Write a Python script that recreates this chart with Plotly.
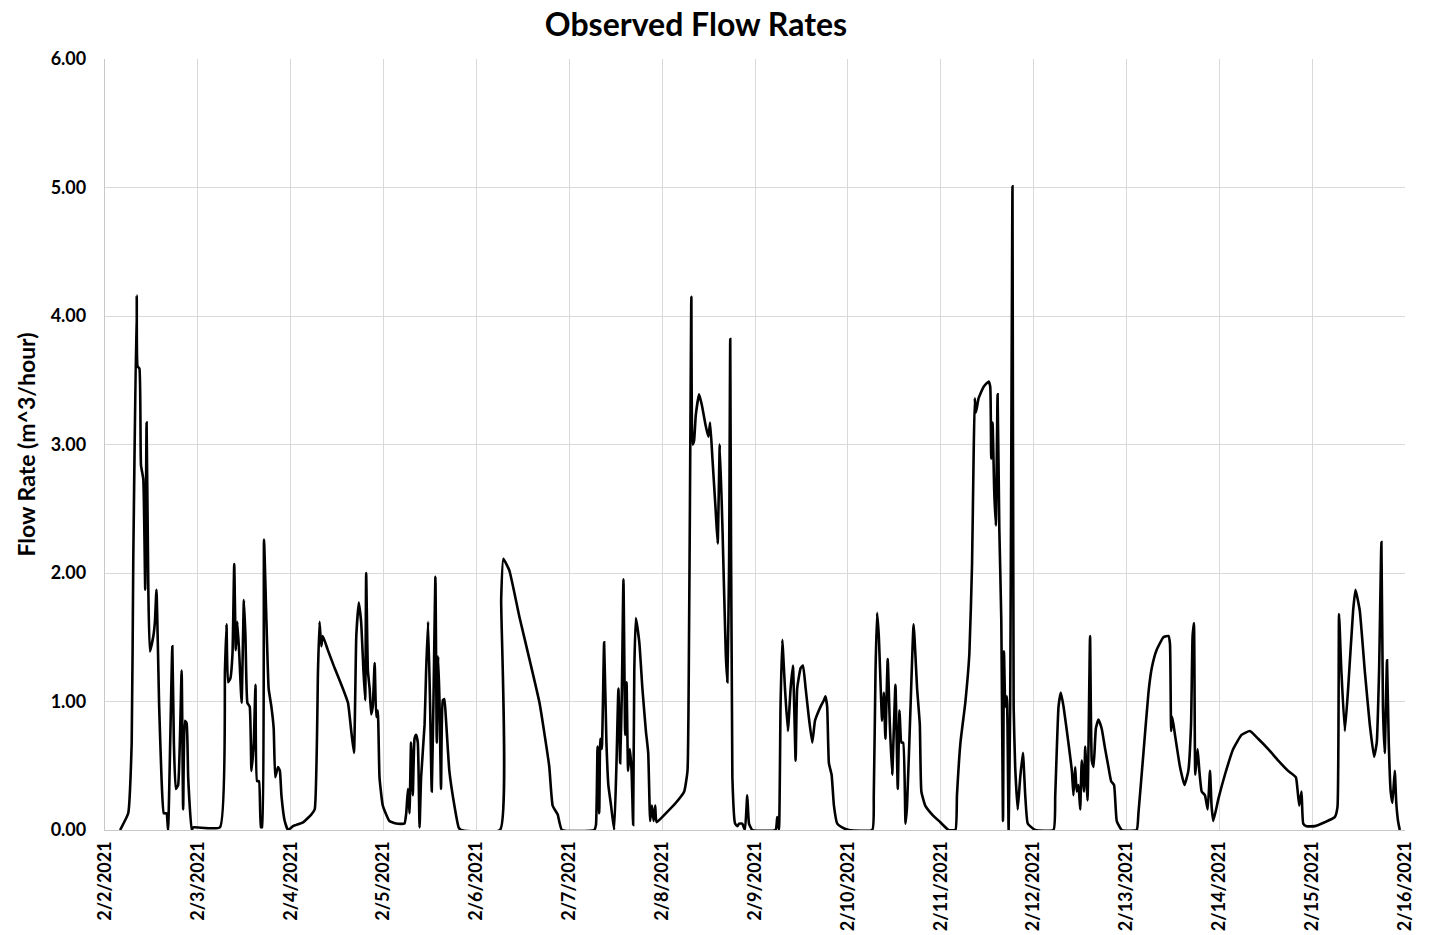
import pandas as pd
import plotly.graph_objects as go

# Hours since 2/2/2021 00:00 and observed flow rate (m^3/hour)
hours_since_start = [
    3.9, 6.0, 6.9, 7.3, 8.2, 8.4, 8.9, 9.3, 9.9, 10.4, 10.75, 11.2, 11.6, 12.5, 12.9, 13.3, 14.0, 14.6, 15.2, 15.9,
    16.3, 17.4, 17.8, 18.3, 18.9, 19.8, 20.2, 20.65, 21.1, 21.5, 22.4, 22.8, 29.7, 31.0, 31.4, 31.8, 32.4, 32.95, 33.4, 33.8,
    34.2, 34.7, 35.3, 35.9, 36.3, 36.8, 37.4, 37.85, 38.45, 38.9, 39.3, 39.8, 40.3, 40.6, 41.1, 41.7, 42.3, 43.0, 43.6, 44.0,
    44.7, 45.2, 45.6, 46.45, 47.3, 48.6, 51.2, 53.3, 54.2, 55.05, 55.45, 55.9, 56.3, 57.6, 59.35, 61.5, 62.8, 63.65, 64.35, 64.95,
    65.6, 66.2, 66.8, 67.25, 67.5, 67.95, 68.4, 68.8, 69.2, 69.7, 70.1, 70.5, 70.95, 71.8, 73.5, 75.3, 77.4, 77.85, 78.3, 78.7,
    79.1, 79.55, 80.0, 80.4, 80.85, 81.3, 81.7, 82.6, 83.0, 83.5, 84.0, 84.45, 84.9, 85.4, 85.75, 86.1, 86.45, 86.85, 87.3, 87.7,
    88.15, 89.0, 90.3, 91.4, 92.0, 102.1, 102.4, 102.96, 104.5, 107.1, 109.7, 112.3, 114.8, 115.7, 117.0, 118.1, 126.45, 126.9, 127.3, 127.75,
    128.0, 128.4, 129.0, 129.6, 130.1, 130.8, 131.6, 132.2, 132.7, 133.15, 133.6, 134.0, 134.45, 134.8, 135.2, 135.65, 136.1, 136.5, 136.8, 137.2,
    138.1, 138.9, 139.8, 140.4, 140.9, 141.35, 141.8, 142.2, 142.55, 144.95, 147.5, 149.7, 150.55, 150.95, 151.2, 151.55, 151.85, 152.25, 152.7, 153.55,
    154.25, 155.3, 155.95, 156.4, 157.0, 157.85, 158.35, 158.9, 159.6, 160.45, 160.85, 161.3, 161.6, 162.15, 162.85, 163.45, 163.9, 164.7, 165.4, 166.0,
    166.45, 167.3, 173.3, 173.75, 174.2, 174.6, 175.05, 175.75, 176.5, 177.2, 177.8, 178.5, 178.9, 179.8, 180.4, 181.1, 181.9, 182.8, 183.5, 184.1,
    184.95, 185.8, 186.2, 186.65, 187.1, 187.8, 188.4, 189.25, 190.5, 192.3, 198.3, 198.7, 199.15, 199.55, 200.0, 200.85, 201.3, 201.7, 202.3, 202.85,
    203.45, 204.3, 204.9, 205.35, 205.85, 206.3, 206.9, 207.3, 208.2, 209.0, 209.9, 210.6, 211.0, 212.0, 213.8, 215.9, 218.0, 219.8, 220.2, 221.1,
    222.35, 223.4, 224.1, 224.5, 224.8, 225.1, 225.8, 227.1, 228.4, 228.8, 229.05, 229.4, 229.85, 230.25, 230.7, 231.15, 231.65, 232.1, 232.35, 232.7,
    233.1, 233.55, 233.95, 234.55, 234.85, 235.25, 235.9, 236.55, 237.25, 237.85, 238.5, 240.4, 245.15, 245.6, 246.45, 247.05, 247.75, 249.0, 249.9, 250.3,
    250.75, 251.15, 251.6, 252.05, 252.45, 253.05, 253.35, 253.95, 254.6, 255.05, 255.5, 256.1, 256.75, 257.6, 258.5, 259.35, 260.05, 260.8, 261.5, 262.8,
    266.65, 267.1, 268.4, 269.7, 270.55, 271.8, 273.55, 274.85, 275.25, 275.55, 275.85, 276.55, 277.85, 279.0, 280.0, 280.7, 281.1, 281.45, 281.8, 282.4,
    282.85, 283.45, 284.3, 285.0, 285.6, 286.0, 286.45, 287.75, 289.45, 291.6, 293.75, 295.9, 298.05, 300.65, 303.25, 305.8, 307.8, 308.2, 308.65, 309.25,
    309.7, 310.55, 312.7, 315.25, 317.85, 318.55, 318.95, 319.55, 320.45, 321.3, 322.6, 323.2, 324.3, 325.6, 326.9, 328.0, 328.7, 329.3, 329.9, 330.3,
    330.75, 331.35, 331.8, 332.3, 332.75, 333.35, 333.75, 334.2, 334.65,
]

flow_rate = [
    0.00, 0.13, 0.68, 2.07, 4.16, 3.61, 3.59, 2.84, 2.73, 1.87, 3.17, 1.87, 1.39, 1.51, 1.62, 1.87, 0.96, 0.41, 0.13, 0.13,
    0.00, 1.43, 0.68, 0.32, 0.35, 1.24, 0.16, 0.85, 0.83, 0.41, 0.00, 0.02, 0.02, 1.24, 1.60, 1.15, 1.18, 1.37, 2.07, 1.40,
    1.62, 1.37, 0.99, 1.79, 1.51, 0.99, 0.96, 0.46, 0.68, 1.13, 0.38, 0.38, 0.02, 0.02, 2.26, 1.65, 1.10, 0.96, 0.79, 0.41,
    0.49, 0.46, 0.27, 0.07, 0.00, 0.03, 0.06, 0.12, 0.16, 1.24, 1.62, 1.43, 1.51, 1.40, 1.26, 1.10, 0.99, 0.77, 0.60, 1.51,
    1.77, 1.62, 1.24, 1.01, 2.00, 1.24, 1.10, 0.90, 0.96, 1.30, 0.88, 0.93, 0.41, 0.19, 0.07, 0.05, 0.05, 0.13, 0.32, 0.13,
    0.68, 0.27, 0.71, 0.74, 0.68, 0.02, 0.41, 0.82, 1.24, 1.62, 1.01, 0.30, 1.01, 1.97, 0.68, 1.35, 1.01, 0.32, 1.01, 1.02,
    0.85, 0.46, 0.19, 0.02, 0.00, 0.00, 1.80, 2.11, 2.02, 1.66, 1.33, 0.99, 0.50, 0.19, 0.12, 0.00, 0.00, 0.04, 0.65, 0.13,
    0.71, 0.63, 1.46, 0.68, 0.35, 0.19, 0.00, 0.52, 1.10, 0.52, 1.10, 1.95, 0.74, 1.15, 0.46, 0.63, 0.46, 0.04, 1.24, 1.65,
    1.46, 1.10, 0.77, 0.60, 0.07, 0.19, 0.07, 0.19, 0.06, 0.13, 0.21, 0.30, 0.46, 1.51, 2.62, 4.15, 3.00, 3.03, 3.23, 3.39,
    3.31, 3.14, 3.06, 3.17, 2.89, 2.48, 2.23, 3.00, 2.34, 1.37, 1.15, 2.07, 3.82, 0.41, 0.05, 0.03, 0.05, 0.05, 0.00, 0.27,
    0.05, 0.00, 0.00, 0.10, 0.00, 0.96, 1.48, 1.10, 0.77, 1.10, 1.28, 0.54, 1.10, 1.26, 1.28, 1.10, 0.88, 0.68, 0.85, 0.90,
    0.96, 1.01, 1.04, 0.96, 0.52, 0.43, 0.19, 0.05, 0.02, 0.00, 0.00, 0.27, 1.24, 1.69, 1.51, 0.85, 1.07, 0.71, 1.33, 0.82,
    0.43, 1.13, 0.32, 0.93, 0.68, 0.68, 0.05, 0.19, 0.96, 1.60, 1.10, 0.82, 0.30, 0.19, 0.12, 0.06, 0.00, 0.00, 0.27, 0.68,
    0.99, 1.37, 2.07, 2.90, 3.36, 3.25, 3.36, 3.45, 3.49, 3.45, 2.89, 3.17, 2.62, 2.37, 3.39, 2.34, 1.65, 0.07, 1.39, 0.96,
    1.04, 0.00, 0.96, 5.01, 0.96, 0.49, 0.16, 0.41, 0.60, 0.27, 0.05, 0.00, 0.00, 0.27, 0.96, 1.07, 0.96, 0.68, 0.46, 0.27,
    0.49, 0.30, 0.35, 0.16, 0.54, 0.30, 0.65, 0.23, 1.51, 0.54, 0.49, 0.79, 0.86, 0.79, 0.63, 0.49, 0.38, 0.35, 0.07, 0.00,
    0.00, 0.13, 0.60, 1.07, 1.26, 1.40, 1.50, 1.51, 1.45, 0.77, 0.88, 0.74, 0.49, 0.35, 0.46, 0.82, 1.51, 1.61, 0.43, 0.63,
    0.46, 0.30, 0.27, 0.16, 0.46, 0.19, 0.07, 0.24, 0.43, 0.63, 0.74, 0.77, 0.71, 0.63, 0.54, 0.46, 0.41, 0.32, 0.19, 0.30,
    0.05, 0.03, 0.03, 0.06, 0.10, 0.18, 1.68, 1.24, 0.77, 1.10, 1.71, 1.87, 1.71, 1.24, 0.82, 0.57, 0.68, 1.24, 2.24, 0.96,
    0.60, 1.32, 0.68, 0.30, 0.21, 0.46, 0.21, 0.07, 0.00,
]

tick_dates = pd.date_range("2021-02-02", "2021-02-16", freq="D")
tick_labels = [f"{d.month}/{d.day}/{d.year}" for d in tick_dates]
y_ticks = [0, 1, 2, 3, 4, 5, 6]
y_tick_labels = [f"{v:.2f}" for v in y_ticks]

start = pd.Timestamp("2021-02-02")
times = [start + pd.Timedelta(hours=h) for h in hours_since_start]

FONT = "Lato, 'Open Sans', sans-serif"

fig = go.Figure()
fig.add_trace(go.Scatter(
    x=times, y=flow_rate, mode="lines",
    line=dict(color="black", width=2.6, shape="spline", smoothing=0.4),
    showlegend=False,
))

fig.update_layout(
    width=1430, height=935,
    margin=dict(l=97, r=33, t=51, b=111),
    paper_bgcolor="white", plot_bgcolor="white",
    title=dict(text="<b>Observed Flow Rates</b>", x=0.4546, xref="paper", xanchor="center",
               y=0.982, yref="container", yanchor="middle",
               font=dict(family=FONT, size=32, color="black")),
    font=dict(family=FONT, color="black"),
)
fig.update_xaxes(
    range=[tick_dates[0], tick_dates[-1]],
    tickvals=list(tick_dates), ticktext=tick_labels, tickangle=-90,
    tickfont=dict(family=FONT, size=18, color="black", weight="bold"),
    showgrid=True, gridcolor="#d9d9d9", gridwidth=1.3,
    showline=True, linecolor="#c8c8c8", linewidth=1.3,
    ticks="", ticklabelstandoff=3, mirror=False,
)
fig.update_yaxes(
    range=[0, 6], tickvals=y_ticks, ticktext=y_tick_labels,
    tickfont=dict(family=FONT, size=18, color="black", weight="bold"),
    showgrid=True, gridcolor="#d9d9d9", gridwidth=1.3,
    showline=True, linecolor="#c8c8c8", linewidth=1.3,
    ticks="", ticklabelstandoff=14, zeroline=False,
    title=dict(text="<b>Flow Rate (m^3/hour)</b>", font=dict(family=FONT, size=23, color="black"), standoff=8),
)

fig.write_html("out.html")
